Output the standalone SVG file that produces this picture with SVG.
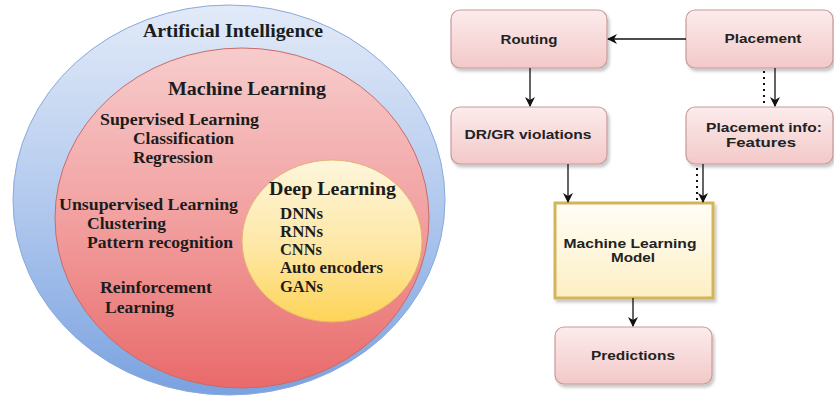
<svg xmlns="http://www.w3.org/2000/svg" width="834" height="396" viewBox="0 0 834 396">
  <defs>
    <linearGradient id="gAI" x1="0" y1="0" x2="0" y2="1">
      <stop offset="0" stop-color="#e2eaf8"/>
      <stop offset="0.5" stop-color="#b3caee"/>
      <stop offset="1" stop-color="#7aa2e0"/>
    </linearGradient>
    <linearGradient id="gML" x1="0" y1="0" x2="0" y2="1">
      <stop offset="0" stop-color="#f7cccc"/>
      <stop offset="0.5" stop-color="#f2a0a0"/>
      <stop offset="1" stop-color="#e96a6a"/>
    </linearGradient>
    <linearGradient id="gDL" x1="0" y1="0" x2="0" y2="1">
      <stop offset="0" stop-color="#fdf6dc"/>
      <stop offset="0.55" stop-color="#fde7a4"/>
      <stop offset="1" stop-color="#fdd457"/>
    </linearGradient>
    <linearGradient id="gPink" x1="0" y1="0" x2="0" y2="1">
      <stop offset="0" stop-color="#fcecec"/>
      <stop offset="1" stop-color="#f3c8c8"/>
    </linearGradient>
    <linearGradient id="gCream" x1="0" y1="0" x2="0" y2="1">
      <stop offset="0" stop-color="#fffdf7"/>
      <stop offset="1" stop-color="#fdefc4"/>
    </linearGradient>
    <filter id="shadow" x="-10%" y="-10%" width="130%" height="140%">
      <feDropShadow dx="2" dy="3" stdDeviation="1.5" flood-color="#000" flood-opacity="0.22"/>
    </filter>
    <marker id="arrow" viewBox="0 0 10 10" refX="9" refY="5" markerWidth="10" markerHeight="10" markerUnits="userSpaceOnUse" orient="auto">
      <path d="M0,0 L10,5 L0,10 L3,5 z" fill="#111"/>
    </marker>
  </defs>
  <style>
    .venn { font-family: "Liberation Serif", "Times New Roman", serif; font-weight: bold; fill: #1c1c1c; }
    .big { font-size: 19px; }
    .item { font-size: 17px; }
    .dl { font-size: 16px; }
    .box { fill: url(#gPink); stroke: #c79a98; stroke-width: 1.2; filter: url(#shadow); }
    .model { fill: url(#gCream); stroke: #d4b45a; stroke-width: 3; filter: url(#shadow); }
    .lbl { font-family: "Liberation Sans", Arial, sans-serif; font-weight: bold; font-size: 12.5px; fill: #222; text-anchor: middle; }
    .edge { stroke: #111; stroke-width: 1.3; fill: none; marker-end: url(#arrow); }
    .dots { stroke: #111; stroke-width: 2; fill: none; stroke-dasharray: 2 4; }
  </style>

  <!-- Nested sets: AI contains ML contains DL -->
  <g id="ai">
    <ellipse cx="229" cy="200" rx="216" ry="195" fill="url(#gAI)" stroke="#8aa9dc" stroke-width="1"/>
    <text class="venn big" x="143" y="37" textLength="180" lengthAdjust="spacingAndGlyphs">Artificial Intelligence</text>
  </g>
  <g id="ml">
    <ellipse cx="242" cy="218" rx="187" ry="170" fill="url(#gML)" stroke="#c96a6a" stroke-width="1"/>
    <text class="venn big" x="168" y="95" font-size="20" textLength="158" lengthAdjust="spacingAndGlyphs">Machine Learning</text>
    <text class="venn item" x="100" y="125" textLength="159" lengthAdjust="spacingAndGlyphs">Supervised Learning</text>
    <text class="venn item" x="133" y="144" textLength="101" lengthAdjust="spacingAndGlyphs">Classification</text>
    <text class="venn item" x="133" y="163" textLength="80" lengthAdjust="spacingAndGlyphs">Regression</text>
    <text class="venn item" x="59" y="210" textLength="179" lengthAdjust="spacingAndGlyphs">Unsupervised Learning</text>
    <text class="venn item" x="87" y="229" textLength="79" lengthAdjust="spacingAndGlyphs">Clustering</text>
    <text class="venn item" x="87" y="248" textLength="146" lengthAdjust="spacingAndGlyphs">Pattern recognition</text>
    <text class="venn item" x="100" y="293" textLength="112" lengthAdjust="spacingAndGlyphs">Reinforcement</text>
    <text class="venn item" x="105" y="313" textLength="69" lengthAdjust="spacingAndGlyphs">Learning</text>
  </g>
  <g id="dl">
    <ellipse cx="332" cy="241" rx="90" ry="81" fill="url(#gDL)" stroke="#e8b070" stroke-width="1"/>
    <text class="venn big" x="269" y="195" font-size="20" textLength="127" lengthAdjust="spacingAndGlyphs">Deep Learning</text>
    <text class="venn dl" x="280" y="219" textLength="43" lengthAdjust="spacingAndGlyphs">DNNs</text>
    <text class="venn dl" x="280" y="237" textLength="43" lengthAdjust="spacingAndGlyphs">RNNs</text>
    <text class="venn dl" x="280" y="255" textLength="42" lengthAdjust="spacingAndGlyphs">CNNs</text>
    <text class="venn dl" x="280" y="273" textLength="103" lengthAdjust="spacingAndGlyphs">Auto encoders</text>
    <text class="venn dl" x="280" y="292" textLength="43" lengthAdjust="spacingAndGlyphs">GANs</text>
  </g>

  <!-- Flow nodes -->
  <g id="routing">
    <rect class="box" x="451" y="10" width="156" height="58" rx="9"/>
    <text class="lbl" x="529" y="44" textLength="57" lengthAdjust="spacingAndGlyphs">Routing</text>
  </g>
  <g id="placement">
    <rect class="box" x="686" y="10" width="147" height="58" rx="9"/>
    <text class="lbl" x="763" y="43" textLength="77" lengthAdjust="spacingAndGlyphs">Placement</text>
  </g>
  <g id="violations">
    <rect class="box" x="451" y="107" width="156" height="57" rx="9"/>
    <text class="lbl" x="528" y="139" textLength="127" lengthAdjust="spacingAndGlyphs">DR/GR violations</text>
  </g>
  <g id="features">
    <rect class="box" x="686" y="107" width="147" height="57" rx="9"/>
    <text class="lbl" x="764" y="132" textLength="116" lengthAdjust="spacingAndGlyphs">Placement info:</text>
    <text class="lbl" x="761" y="147" textLength="70" lengthAdjust="spacingAndGlyphs">Features</text>
  </g>
  <g id="model">
    <rect class="model" x="555" y="203" width="158" height="95"/>
    <text class="lbl" x="630" y="248" textLength="133" lengthAdjust="spacingAndGlyphs">Machine Learning</text>
    <text class="lbl" x="633" y="262" textLength="44" lengthAdjust="spacingAndGlyphs">Model</text>
  </g>
  <g id="predictions">
    <rect class="box" x="555" y="327" width="157" height="57" rx="9"/>
    <text class="lbl" x="633" y="360" textLength="84" lengthAdjust="spacingAndGlyphs">Predictions</text>
  </g>

  <!-- Connectors -->
  <g id="connectors">
    <path class="edge" d="M686,39 L608,39"/>
    <path class="edge" d="M530,68 L530,106"/>
    <path class="edge" d="M775,68 L775,106"/>
    <path class="dots" d="M764,71 L764,106"/>
    <path class="edge" d="M568,164 L568,202"/>
    <path class="edge" d="M703,164 L703,202"/>
    <path class="dots" d="M697,168 L697,204"/>
    <path class="edge" d="M633,298 L633,326"/>
  </g>
</svg>
